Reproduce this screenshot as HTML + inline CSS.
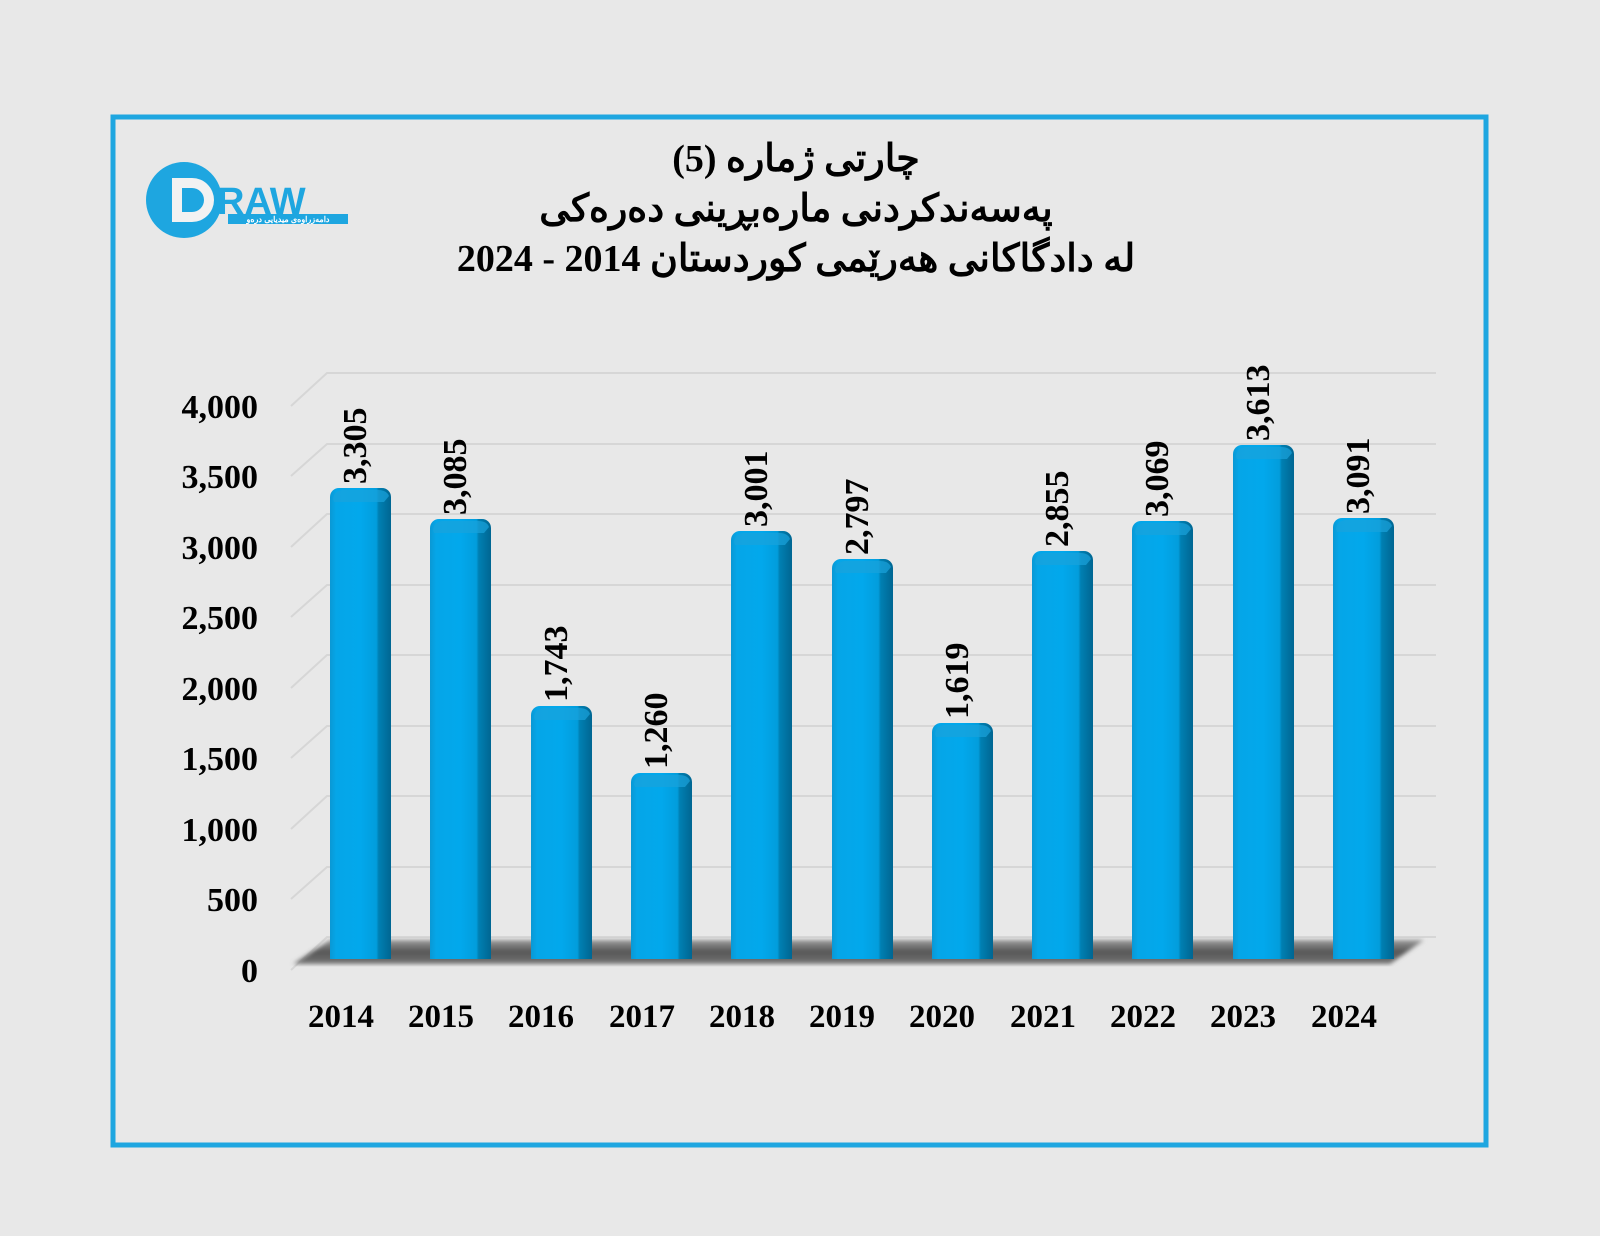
<!DOCTYPE html>
<html><head><meta charset="utf-8"><style>
html,body{margin:0;padding:0;background:#e8e8e8;width:1600px;height:1236px;overflow:hidden;}
svg{display:block;}
text{font-family:"Liberation Serif","Noto Sans CJK SC",serif;font-weight:bold;fill:#000;}
</style></head><body>
<svg width="1600" height="1236" viewBox="0 0 1600 1236" xmlns="http://www.w3.org/2000/svg">
<defs>
<linearGradient id="bar" x1="0" x2="1" y1="0" y2="0">
<stop offset="0" stop-color="#0a98d4"/>
<stop offset="0.1" stop-color="#05a6e8"/>
<stop offset="0.5" stop-color="#02a8ec"/>
<stop offset="0.76" stop-color="#029ddc"/>
<stop offset="0.8" stop-color="#007fb2"/>
<stop offset="1" stop-color="#006692"/>
</linearGradient>
<linearGradient id="floor" x1="0" x2="0" y1="0" y2="1">
<stop offset="0" stop-color="#9a9a9a"/>
<stop offset="0.5" stop-color="#555"/>
<stop offset="1" stop-color="#777"/>
</linearGradient>
<filter id="blur"><feGaussianBlur stdDeviation="2"/></filter>
<g id="b"><rect x="0" y="0" width="61" height="600" rx="9" fill="url(#bar)"/><path d="M3 11 q1 -8 9 -9 h36 q9 0 11 6 l-5 6 h-50 z" fill="#1aa3dc" opacity="0.7"/></g>
</defs>
<rect x="0" y="0" width="1600" height="1236" fill="#e8e8e8"/>
<rect x="113" y="117" width="1373" height="1028" fill="#e8e8e8" stroke="#1ea6e0" stroke-width="5"/>

<circle cx="184" cy="200" r="38" fill="#1ea6e0"/>
<path d="M172 178 h20 a22 22 0 0 1 0 44 h-20 z M182 188 v24 h10 a12 12 0 0 0 0 -24 z" fill="#f2f2f2" fill-rule="evenodd"/>
<text x="217" y="214" font-size="38" style="font-family:'Liberation Sans',sans-serif;fill:#1ea6e0;font-weight:bold">RAW</text>
<rect x="228" y="214" width="120" height="10" fill="#1ea6e0"/>
<text x="288" y="222" text-anchor="middle" font-size="8" style="fill:#fff;font-family:'Liberation Sans','Noto Sans CJK SC',sans-serif">دامەزراوەی میدیایی درەو</text>

<text x="796" y="171" text-anchor="middle" font-size="38" direction="rtl">چارتی ژمارە (5)</text>
<text x="796" y="221" text-anchor="middle" font-size="38" direction="rtl">پەسەندکردنی مارەبڕینی دەرەکی</text>
<text x="796" y="271" text-anchor="middle" font-size="38">لە دادگاکانی هەرێمی کوردستان 2014 - 2024</text>

<g stroke="#d6d6d6" stroke-width="2" fill="none">
<path d="M291 406 L327 373 H1436"/>
<path d="M291 476 L327 444 H1436"/>
<path d="M291 547 L327 514 H1436"/>
<path d="M291 617 L327 585 H1436"/>
<path d="M291 688 L327 655 H1436"/>
<path d="M291 758 L327 726 H1436"/>
<path d="M291 829 L327 796 H1436"/>
<path d="M291 899 L327 867 H1436"/>
<path d="M291 970 L327 937 H1436"/>
</g>
<polygon points="293,964 330,940 1424,940 1390,964" fill="url(#floor)" filter="url(#blur)"/>

<g font-size="34" text-anchor="end">
<text x="258" y="418">4,000</text>
<text x="258" y="488">3,500</text>
<text x="258" y="559">3,000</text>
<text x="258" y="629">2,500</text>
<text x="258" y="700">2,000</text>
<text x="258" y="770">1,500</text>
<text x="258" y="841">1,000</text>
<text x="258" y="911">500</text>
<text x="258" y="982">0</text>
</g>

<g>
<svg x="330" y="488" width="61" height="471" overflow="hidden"><use href="#b"/></svg>
<svg x="430" y="519" width="61" height="440" overflow="hidden"><use href="#b"/></svg>
<svg x="531" y="706" width="61" height="253" overflow="hidden"><use href="#b"/></svg>
<svg x="631" y="773" width="61" height="186" overflow="hidden"><use href="#b"/></svg>
<svg x="731" y="531" width="61" height="428" overflow="hidden"><use href="#b"/></svg>
<svg x="832" y="559" width="61" height="400" overflow="hidden"><use href="#b"/></svg>
<svg x="932" y="723" width="61" height="236" overflow="hidden"><use href="#b"/></svg>
<svg x="1032" y="551" width="61" height="408" overflow="hidden"><use href="#b"/></svg>
<svg x="1132" y="521" width="61" height="438" overflow="hidden"><use href="#b"/></svg>
<svg x="1233" y="445" width="61" height="514" overflow="hidden"><use href="#b"/></svg>
<svg x="1333" y="518" width="61" height="441" overflow="hidden"><use href="#b"/></svg>
</g>
<g font-size="34">
<text transform="translate(366 484) rotate(-90)">3,305</text>
<text transform="translate(466 515) rotate(-90)">3,085</text>
<text transform="translate(567 702) rotate(-90)">1,743</text>
<text transform="translate(667 769) rotate(-90)">1,260</text>
<text transform="translate(767 527) rotate(-90)">3,001</text>
<text transform="translate(868 555) rotate(-90)">2,797</text>
<text transform="translate(968 719) rotate(-90)">1,619</text>
<text transform="translate(1068 547) rotate(-90)">2,855</text>
<text transform="translate(1168 517) rotate(-90)">3,069</text>
<text transform="translate(1269 441) rotate(-90)">3,613</text>
<text transform="translate(1369 514) rotate(-90)">3,091</text>
</g>

<g font-size="33" text-anchor="middle">
<text x="341" y="1027">2014</text><text x="441" y="1027">2015</text><text x="541" y="1027">2016</text>
<text x="642" y="1027">2017</text><text x="742" y="1027">2018</text><text x="842" y="1027">2019</text>
<text x="942" y="1027">2020</text><text x="1043" y="1027">2021</text><text x="1143" y="1027">2022</text>
<text x="1243" y="1027">2023</text><text x="1344" y="1027">2024</text>
</g>
</svg>
</body></html>
